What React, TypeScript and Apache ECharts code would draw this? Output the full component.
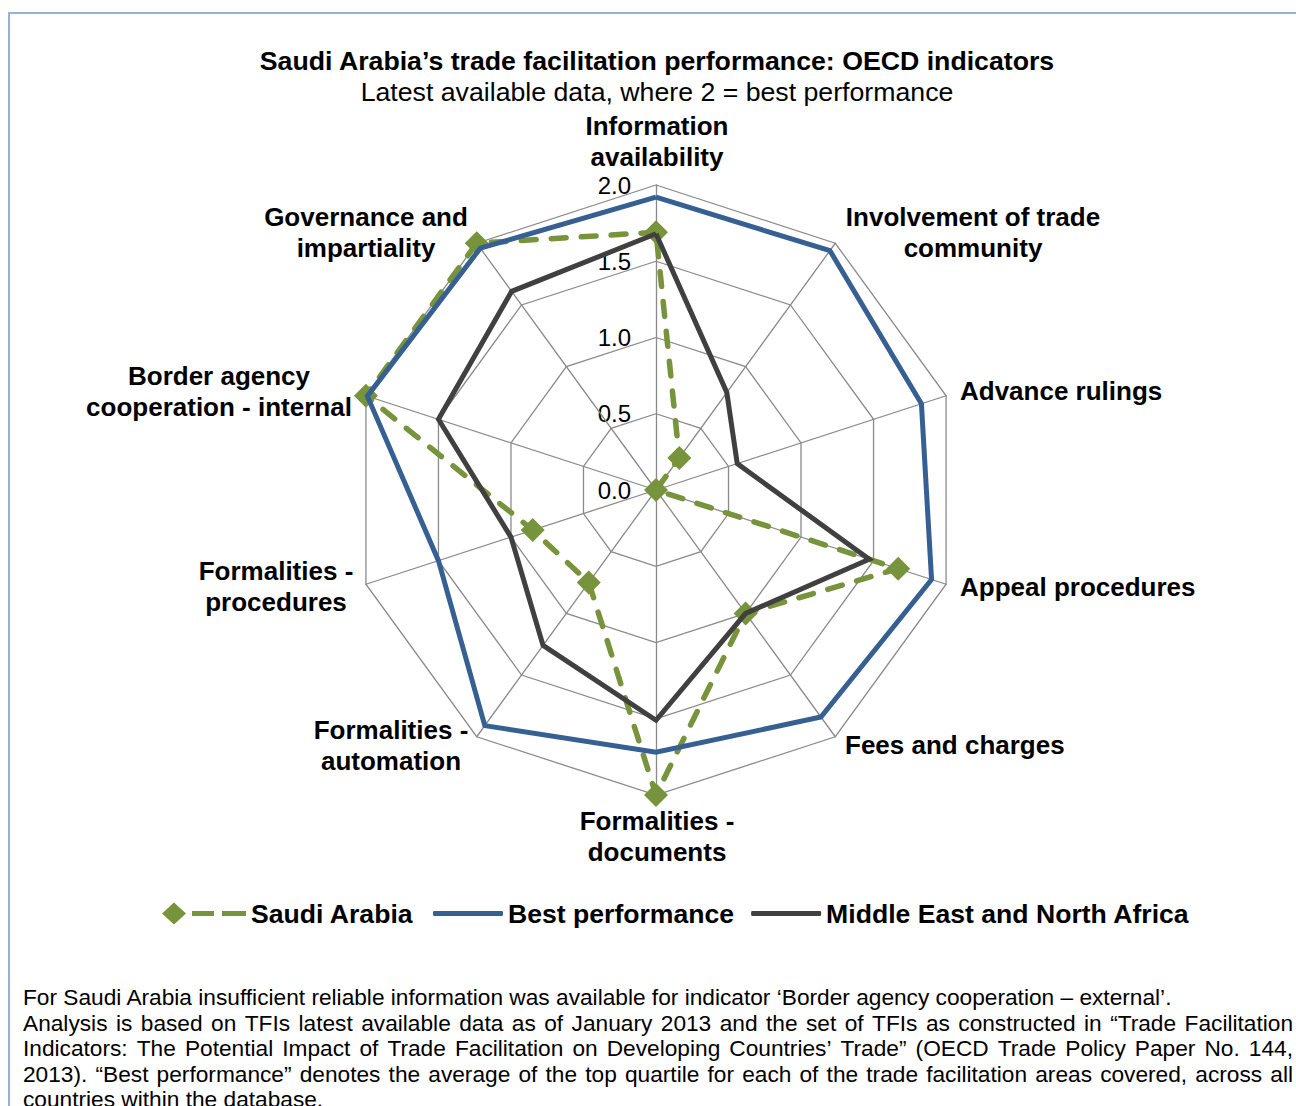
import React, { useEffect, useRef } from "react";
import * as echarts from "echarts";

// Indicators in clockwise order starting from the top
const indicators = [
  "Information availability",
  "Involvement of trade community",
  "Advance rulings",
  "Appeal procedures",
  "Fees and charges",
  "Formalities - documents",
  "Formalities - automation",
  "Formalities - procedures",
  "Border agency cooperation - internal",
  "Governance and impartiality",
];
const indicatorLabels = [
  "Information\navailability",
  "Involvement of trade\ncommunity",
  "Advance rulings",
  "Appeal procedures",
  "Fees and charges",
  "Formalities -\ndocuments",
  "Formalities -\nautomation",
  "Formalities -\nprocedures",
  "Border agency\ncooperation - internal",
  "Governance and\nimpartiality",
];
const saudiArabia = [1.69, 0.26, 0, 1.67, 1.0, 2.0, 0.75, 0.85, 2.0, 2.0];
const bestPerformance = [1.92, 1.94, 1.83, 1.9, 1.84, 1.72, 1.91, 1.5, 1.99, 1.96];
const mena = [1.68, 0.79, 0.56, 1.47, 1.0, 1.51, 1.26, 1.0, 1.5, 1.61];
const ticks = ["0.0", "0.5", "1.0", "1.5", "2.0"];
const maxValue = 2;

const seriesNames = ["Saudi Arabia", "Best performance", "Middle East and North Africa"];

const titleText = "Saudi Arabia\u2019s trade facilitation performance: OECD indicators";
const subtitleText = "Latest available data, where 2 = best performance";
const footnoteLines = [
  "For Saudi Arabia insufficient reliable information was available for indicator \u2018Border agency cooperation \u2013 external\u2019.",
  "Analysis is based on TFIs latest available data as of January 2013 and the set of TFIs as constructed in \u201cTrade Facilitation",
  "Indicators: The Potential Impact of Trade Facilitation on Developing Countries\u2019 Trade\u201d (OECD Trade Policy Paper No. 144,",
  "2013). \u201cBest performance\u201d denotes the average of the top quartile for each of the trade facilitation areas covered, across all",
  "countries within the database.",
];
const footnoteJustified = [false, true, true, true, false];

// Layout (style only)
const CX = 656;
const CY = 490;
const R = 305;
const FONT = '"Liberation Sans", Arial, sans-serif';
const labelPos: [number, number][] = [
  [657, 141],
  [973, 232],
  [960, 391],
  [960, 587],
  [845, 745],
  [657, 836],
  [391, 745],
  [276, 586],
  [219, 391],
  [366, 232],
];
const labelAlign = ["center", "center", "left", "left", "left", "center", "center", "center", "center", "center"];
const FOOT_X = 23;
const FOOT_W = 1270;
const FOOT_Y0 = 997;
const FOOT_LH = 25.5;
const FOOT_SIZE = 22.7;

const GREEN = "#77933C";
const BLUE = "#376092";
const DARK = "#404040";

// ECharts places radar indicators counter-clockwise; reorder
const order = [0, 9, 8, 7, 6, 5, 4, 3, 2, 1];
const reorder = (arr: any[]) => order.map((i) => arr[i]);

function textStyle(text: string, font: string, align: string, vAlign: string, extra: any = {}) {
  return {
    text,
    font,
    fill: "#000",
    align,
    textAlign: align,
    verticalAlign: vAlign,
    textVerticalAlign: vAlign,
    ...extra,
  };
}

export default function App() {
  const ref = useRef<HTMLDivElement>(null);
  useEffect(() => {
    if (!ref.current) return;
    const chart = echarts.init(ref.current, undefined, { renderer: "svg" });

    const graphic: any[] = [
      {
        type: "rect",
        shape: { x: 9, y: 13, width: 1400, height: 1200 },
        style: { fill: "none", stroke: "#95B3D7", lineWidth: 2 },
        silent: true,
      },
    ];
    indicatorLabels.forEach((t, i) => {
      graphic.push({
        type: "text",
        x: labelPos[i][0],
        y: labelPos[i][1],
        style: textStyle(t, `bold 26px ${FONT}`, labelAlign[i], "middle", { lineHeight: 31 }),
        silent: true,
      });
    });
    ticks.forEach((t) => {
      const v = parseFloat(t);
      graphic.push({
        type: "text",
        x: 631,
        y: CY - (v / maxValue) * R,
        style: textStyle(t, `24px ${FONT}`, "right", "middle"),
        silent: true,
      });
    });

    // footnote, with justified lines
    const footFont = `${FOOT_SIZE}px ${FONT}`;
    const canvas = document.createElement("canvas");
    const ctx = canvas.getContext("2d");
    if (ctx) ctx.font = footFont;
    footnoteLines.forEach((line, li) => {
      const y = FOOT_Y0 + li * FOOT_LH;
      if (footnoteJustified[li] && ctx) {
        const words = line.split(" ");
        const widths = words.map((w) => ctx.measureText(w).width);
        const total = widths.reduce((a, b) => a + b, 0);
        const gap = (FOOT_W - total) / (words.length - 1);
        let x = FOOT_X;
        words.forEach((w, wi) => {
          graphic.push({
            type: "text",
            x,
            y,
            style: textStyle(w, footFont, "left", "middle"),
            silent: true,
          });
          x += widths[wi] + gap;
        });
      } else {
        graphic.push({
          type: "text",
          x: FOOT_X,
          y,
          style: textStyle(line, footFont, "left", "middle"),
          silent: true,
        });
      }
    });

    const saudiIcon =
      "path://M12,0 L24,11 L12,22 L0,11 Z M30,8.5 L52,8.5 L52,13.5 L30,13.5 Z M60,8.5 L84,8.5 L84,13.5 L60,13.5 Z";

    const legendText = { fontFamily: FONT, fontSize: 26.6, fontWeight: "bold", color: "#000" };

    const option: any = {
      animation: false,
      backgroundColor: "#fff",
      title: {
        text: titleText,
        subtext: subtitleText,
        left: 652,
        textAlign: "center",
        top: 41,
        itemGap: 1,
        textStyle: { fontFamily: FONT, fontSize: 26.7, fontWeight: "bold", color: "#000", lineHeight: 30 },
        subtextStyle: { fontFamily: FONT, fontSize: 26.7, fontWeight: "normal", color: "#000", lineHeight: 30 },
      },
      legend: [
        {
          data: [{ name: seriesNames[0], icon: saudiIcon, itemStyle: { color: GREEN, borderWidth: 0 } }],
          left: 157,
          top: 895,
          itemWidth: 84,
          itemHeight: 22,
          selectedMode: false,
          textStyle: legendText,
        },
        {
          data: [
            { name: seriesNames[1], icon: "roundRect", itemStyle: { color: BLUE, borderWidth: 0 } },
            { name: seriesNames[2], icon: "roundRect", itemStyle: { color: DARK, borderWidth: 0 } },
          ],
          left: 428,
          top: 895,
          itemWidth: 70,
          itemHeight: 5,
          itemGap: 17,
          selectedMode: false,
          textStyle: legendText,
        },
      ],
      radar: {
        center: [CX, CY],
        radius: R,
        startAngle: 90,
        shape: "polygon",
        splitNumber: 4,
        indicator: reorder(indicators).map((name: string) => ({ name, min: 0, max: maxValue })),
        axisName: { show: false },
        splitLine: { lineStyle: { color: "#8a8a8a", width: 1.3 } },
        axisLine: { lineStyle: { color: "#8a8a8a", width: 1.3 } },
        splitArea: { show: false },
        axisTick: { show: false },
        axisLabel: { show: false },
      },
      graphic,
      series: [
        {
          type: "radar",
          name: seriesNames[0],
          z: 2,
          symbol: "diamond",
          symbolSize: 24,
          itemStyle: { color: GREEN },
          lineStyle: { color: GREEN, width: 5.5, type: [15, 15], cap: "round" },
          data: [{ name: seriesNames[0], value: reorder(saudiArabia) }],
        },
        {
          type: "radar",
          name: seriesNames[1],
          z: 3,
          symbol: "none",
          itemStyle: { color: BLUE },
          lineStyle: { color: BLUE, width: 5, join: "miter" },
          data: [{ name: seriesNames[1], value: reorder(bestPerformance) }],
        },
        {
          type: "radar",
          name: seriesNames[2],
          z: 4,
          symbol: "none",
          itemStyle: { color: DARK },
          lineStyle: { color: DARK, width: 5, join: "miter" },
          data: [{ name: seriesNames[2], value: reorder(mena) }],
        },
      ],
    };
    chart.setOption(option);
    return () => chart.dispose();
  }, []);
  return (
    <div
      ref={ref}
      style={{ position: "fixed", left: 0, top: 0, width: 1296, height: 1106 }}
    />
  );
}
